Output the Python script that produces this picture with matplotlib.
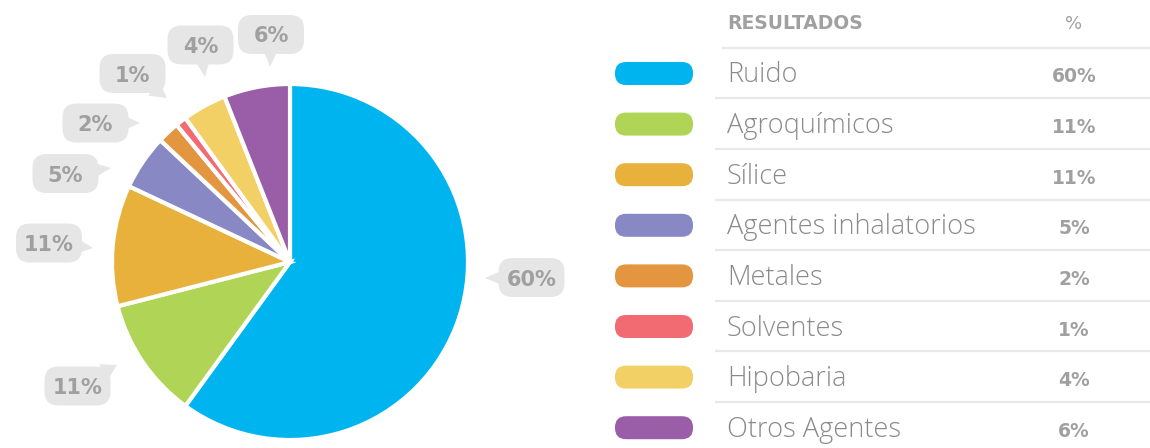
"""
Pie of exposure results with speech-bubble labels and a side table.
"""

import numpy as np
import matplotlib
matplotlib.use("Agg")
import matplotlib.pyplot as plt
from matplotlib.patches import FancyBboxPatch, Polygon

# data
CATEGORIES = ["Ruido", "Agroquímicos", "Sílice", "Agentes inhalatorios",
              "Metales", "Solventes", "Hipobaria", "Otros Agentes"]
VALUES = [60, 11, 11, 5, 2, 1, 4, 6]
COLORS = ["#00b5ef", "#b0d455", "#e8b13c", "#8788c4",
          "#e4953f", "#f26a72", "#f2d066", "#9a5ea8"]
HEADER = ["RESULTADOS", "%"]

# layout, in pixels (origin top-left)
W, H = 1150, 448
CENTER = (290, 262)
RADIUS = 178
# bubble box centres and tail tips, one per category
BUBBLE_XY = [(531.5, 277.5), (77.5, 386), (49, 243), (65.5, 173.5),
             (95.5, 123), (132.5, 73.5), (200.5, 45), (271, 34.5)]
TAIL_TIP = [(485, 278), (117, 365), (93, 248), (111, 168),
            (140, 123), (167, 98), (205, 77), (270, 67)]
BUBBLE_W, BUBBLE_H = 66, 39

GREY_TXT = "#a0a0a0"
BUBBLE_FILL = "#e6e6e6"
LINE_C = "#e8e8e8"
NUM_FONT = "DejaVu Sans"
LABEL_FONT = "Open Sans"

fig = plt.figure(figsize=(W / 100, H / 100), dpi=100)
ax = fig.add_axes([0, 0, 1, 1])

# y axis runs downward, so angles grow clockwise on screen
ax.pie(VALUES, colors=COLORS, startangle=-90, counterclock=True,
       center=CENTER, radius=RADIUS,
       wedgeprops=dict(edgecolor="white", linewidth=3))
ax.set_xlim(0, W)
ax.set_ylim(H, 0)
ax.set_aspect("auto")
ax.axis("off")


def bubble(cx, cy, tip, text):
    hw, hh = BUBBLE_W / 2, BUBBLE_H / 2
    box = FancyBboxPatch((cx - hw, cy - hh), BUBBLE_W, BUBBLE_H,
                         boxstyle="round,pad=0,rounding_size=14",
                         fc=BUBBLE_FILL, ec="none", zorder=3)
    ax.add_patch(box)
    # tail: triangle from just inside the box edge out to the tip
    d = np.array(tip, float) - np.array([cx, cy])
    u = d / np.hypot(*d)
    p = np.array([-u[1], u[0]])
    t_exit = min(hw / abs(u[0]) if u[0] else 1e9, hh / abs(u[1]) if u[1] else 1e9)
    base = np.array([cx, cy]) + u * (t_exit - 8)
    tri = Polygon([base + p * 9, base - p * 9, tip], closed=True,
                  fc=BUBBLE_FILL, ec="none", zorder=3)
    ax.add_patch(tri)
    ax.text(cx, cy + 8, text, ha="center", va="baseline", fontsize=15,
            fontweight="bold", color=GREY_TXT, family=NUM_FONT, zorder=4)


for v, (bx, by), tip in zip(VALUES, BUBBLE_XY, TAIL_TIP):
    bubble(bx, by, tip, f"{v}%")

# side table
TBL_X, PCT_X = 727, 1074
ROW0, STEP = 73.5, 50.6
ax.text(TBL_X, 29, HEADER[0], ha="left", va="baseline", fontsize=13.5,
        fontweight="bold", color=GREY_TXT, family=NUM_FONT)
ax.text(PCT_X, 29, HEADER[1], ha="center", va="baseline", fontsize=13,
        color=GREY_TXT, family=NUM_FONT)
ax.plot([722, W], [48.5, 48.5], color=LINE_C, lw=1.6, solid_capstyle="butt")

for i, (cat, v, c) in enumerate(zip(CATEGORIES, VALUES, COLORS)):
    y = ROW0 + i * STEP
    ax.add_patch(FancyBboxPatch((615, y - 11.5), 78, 23,
                                boxstyle="round,pad=0,rounding_size=11",
                                fc=c, ec="none"))
    ax.text(TBL_X, y + 9, cat, ha="left", va="baseline", fontsize=19.5,
            fontweight="light", color="#8a8a8a", family=LABEL_FONT)
    ax.text(PCT_X, y + 9, f"{v}%", ha="center", va="baseline", fontsize=13.5,
            fontweight="bold", color=GREY_TXT, family=NUM_FONT)
    if i < len(CATEGORIES) - 1:
        ax.plot([715, W], [y + 25, y + 25], color=LINE_C, lw=1.6,
                solid_capstyle="butt")

fig.savefig("out.png", dpi=100)
